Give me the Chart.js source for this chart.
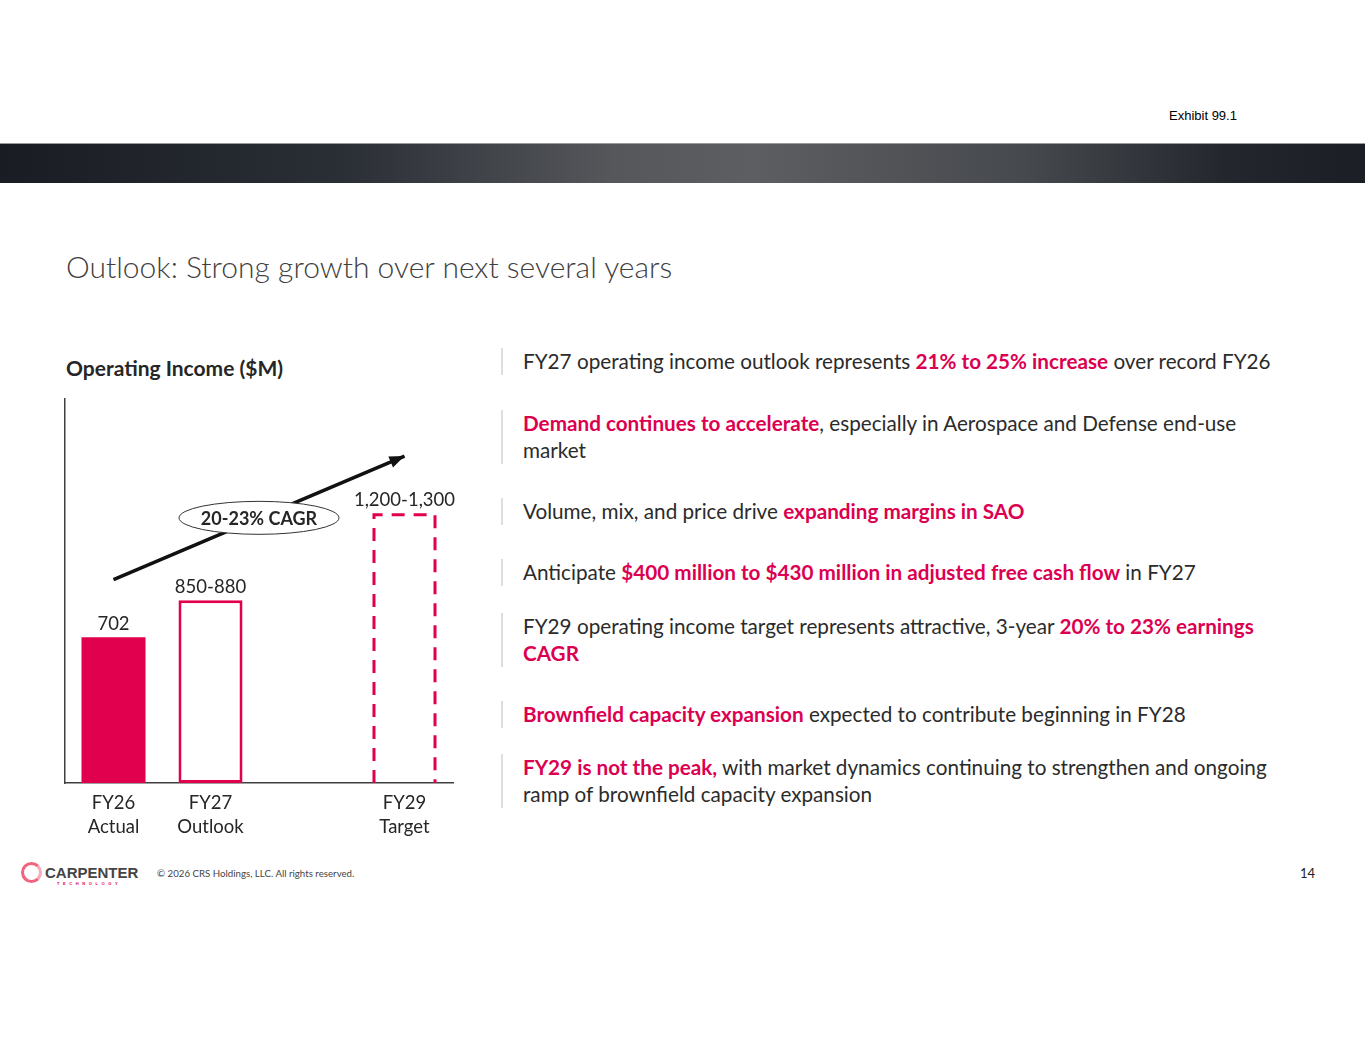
<!DOCTYPE html>
<html>
<head>
<meta charset="utf-8">
<script src="https://cdn.jsdelivr.net/npm/chart.js"></script>
<style>
  body { margin: 0; width: 1365px; height: 1055px; background: #fff; position: relative; overflow: hidden; font-family: Lato, "Open Sans", sans-serif; color: #262626; }
  .exhibit { position: absolute; left: 1169px; top: 108px; font: 13px "Liberation Sans", Arial, sans-serif; color: #000; }
  .band { position: absolute; left: 0; top: 143px; width: 1365px; height: 40px;
    background: linear-gradient(to right, #191d23 0%, #2a2e35 25%, #55575b 45%, #5d5e61 55%, #46494e 75%, #23272d 90%, #1b1f25 100%);
    border-top: 1px solid #9a9a9a; box-sizing: border-box; }
  .title { position: absolute; left: 66px; top: 248px; font-size: 30px; font-weight: 300; color: #3f3f3f; white-space: nowrap; }
  .subtitle { position: absolute; left: 66px; top: 355px; font-size: 21px; font-weight: 700; color: #262626; white-space: nowrap; }
  #chartBox { position: absolute; left: 0; top: 390px; width: 470px; height: 455px; }
  .bullet { position: absolute; left: 501px; border-left: 2px solid #dedede; padding-left: 20px; font-size: 20.7px; line-height: 27px; white-space: nowrap; color: #2b2b2b; }
  .bullet b { color: #dc0050; font-weight: 700; }
  .logo { position: absolute; left: 20px; top: 862px; }
  .ring { position: absolute; left: 1px; top: 0px; width: 15px; height: 15px; border: 3px solid #f0647e; border-radius: 50%; border-right-color: #f7a9b8; }
  .brand { position: absolute; left: 25px; top: 2px; font: 700 15px "Liberation Sans Narrow", "Liberation Sans", sans-serif; color: #444; white-space: nowrap; }
  .tech { position: absolute; left: 37px; top: 19px; font: 700 4px "Liberation Sans", sans-serif; color: #e0004d; letter-spacing: 3.6px; white-space: nowrap; }
  .copy { position: absolute; left: 157px; top: 867px; font-size: 9.7px; color: #444; white-space: nowrap; }
  .page { position: absolute; left: 1300px; top: 865px; font-size: 13px; color: #222; }
</style>
</head>
<body>
<div class="exhibit">Exhibit 99.1</div>
<div class="band"></div>
<div class="title">Outlook: Strong growth over next several years</div>
<div class="subtitle">Operating Income ($M)</div>
<div id="chartBox"><canvas id="myChart"></canvas></div>

<div class="bullet" style="top:348px">FY27 operating income outlook represents <b>21% to 25% increase</b> over record FY26</div>
<div class="bullet" style="top:410px"><b>Demand continues to accelerate</b>, especially in Aerospace and Defense end-use<br>market</div>
<div class="bullet" style="top:498px">Volume, mix, and price drive <b>expanding margins in SAO</b></div>
<div class="bullet" style="top:559px">Anticipate <b>$400 million to $430 million in adjusted free cash flow</b> in FY27</div>
<div class="bullet" style="top:613px">FY29 operating income target represents attractive, 3-year <b>20% to 23% earnings<br>CAGR</b></div>
<div class="bullet" style="top:701px"><b>Brownfield capacity expansion</b> expected to contribute beginning in FY28</div>
<div class="bullet" style="top:754px"><b>FY29 is not the peak,</b> with market dynamics continuing to strengthen and ongoing<br>ramp of brownfield capacity expansion</div>

<div class="logo"><div class="ring"></div><div class="brand">CARPENTER</div><div class="tech">TECHNOLOGY</div></div>
<div class="copy">© 2026 CRS Holdings, LLC. All rights reserved.</div>
<div class="page">14</div>

<script>
// Chart data
const categories = [['FY26', 'Actual'], ['FY27', 'Outlook'], '', ['FY29', 'Target']];
const barValues = [702, 880, null, 1300];
const barLabels = ['702', '850-880', '', '1,200-1,300'];
const cagrArrow = [980, null, null, 1575];
const cagrText = '20-23% CAGR';

const red = '#e0004d';
const ctx = document.getElementById('myChart').getContext('2d');

// labels, dashed target bar, arrowhead and CAGR ellipse
const extras = {
    id: 'extras',
    afterDatasetsDraw(chart) {
        const c = chart.ctx;
        const bars = chart.getDatasetMeta(0).data;

        // dashed outline for the target bar
        const t = bars[3];
        const half = t.width / 2;
        c.save();
        c.strokeStyle = red;
        c.lineWidth = 3;
        c.setLineDash([13, 9]);
        c.beginPath();
        c.moveTo(t.x - half + 1.5, t.base);
        c.lineTo(t.x - half + 1.5, t.y + 1.5);
        c.lineTo(t.x + half - 1.5, t.y + 1.5);
        c.lineTo(t.x + half - 1.5, t.base);
        c.stroke();
        c.restore();

        // value labels
        c.save();
        c.font = '18.5px Lato';
        c.fillStyle = '#262626';
        c.textAlign = 'center';
        c.textBaseline = 'bottom';
        bars.forEach((b, i) => {
            if (barLabels[i]) c.fillText(barLabels[i], b.x, b.y - 4);
        });
        c.restore();

        // arrowhead
        const pts = chart.getDatasetMeta(1).data;
        const p0 = pts[0], p1 = pts[3];
        const ang = Math.atan2(p1.y - p0.y, p1.x - p0.x);
        c.save();
        c.translate(p1.x, p1.y);
        c.rotate(ang);
        c.fillStyle = '#111';
        c.beginPath();
        c.moveTo(0, 0);
        c.lineTo(-15, -6);
        c.lineTo(-15, 6);
        c.closePath();
        c.fill();
        c.restore();

        // CAGR ellipse at the arrow midpoint
        const mx = (p0.x + p1.x) / 2, my = (p0.y + p1.y) / 2;
        c.save();
        c.beginPath();
        c.ellipse(mx, my, 80, 16.5, 0, 0, Math.PI * 2);
        c.fillStyle = '#fff';
        c.fill();
        c.lineWidth = 1;
        c.strokeStyle = '#333';
        c.stroke();
        c.font = 'bold 18px Lato';
        c.fillStyle = '#262626';
        c.textAlign = 'center';
        c.textBaseline = 'middle';
        c.fillText(cagrText, mx, my + 1);
        c.restore();
    }
};

const myChart = new Chart(ctx, {
    type: 'bar',
    data: {
        labels: categories,
        datasets: [{
            data: barValues,
            backgroundColor: [red, '#ffffff', 'rgba(0,0,0,0)', 'rgba(0,0,0,0)'],
            borderColor: red,
            borderWidth: [0, 3, 0, 0],
            borderSkipped: false,
            barPercentage: 0.66,
            categoryPercentage: 1,
            order: 2
        }, {
            type: 'line',
            data: cagrArrow,
            borderColor: '#111',
            borderWidth: 3.5,
            pointRadius: 0,
            spanGaps: true,
            order: 1
        }]
    },
    options: {
        responsive: true,
        maintainAspectRatio: false,
        animation: false,
        layout: { padding: { left: 65, right: 17, top: 9, bottom: 2 } },
        plugins: { legend: { display: false }, tooltip: { enabled: false } },
        scales: {
            x: {
                grid: { display: false, drawTicks: false },
                border: { display: true, color: '#404040', width: 1.5 },
                ticks: { color: '#262626', font: { family: 'Lato', size: 18.5, lineHeight: 1.3 }, padding: 8, maxRotation: 0 },
                afterFit: (s) => { s.height = 60; }
            },
            y: {
                min: 0,
                max: 1850,
                grid: { display: false, drawTicks: false },
                border: { display: true, color: '#404040', width: 1.5 },
                ticks: { display: false },
                afterFit: (s) => { s.width = 0; }
            }
        }
    },
    plugins: [extras]
});
</script>
</body>
</html>
